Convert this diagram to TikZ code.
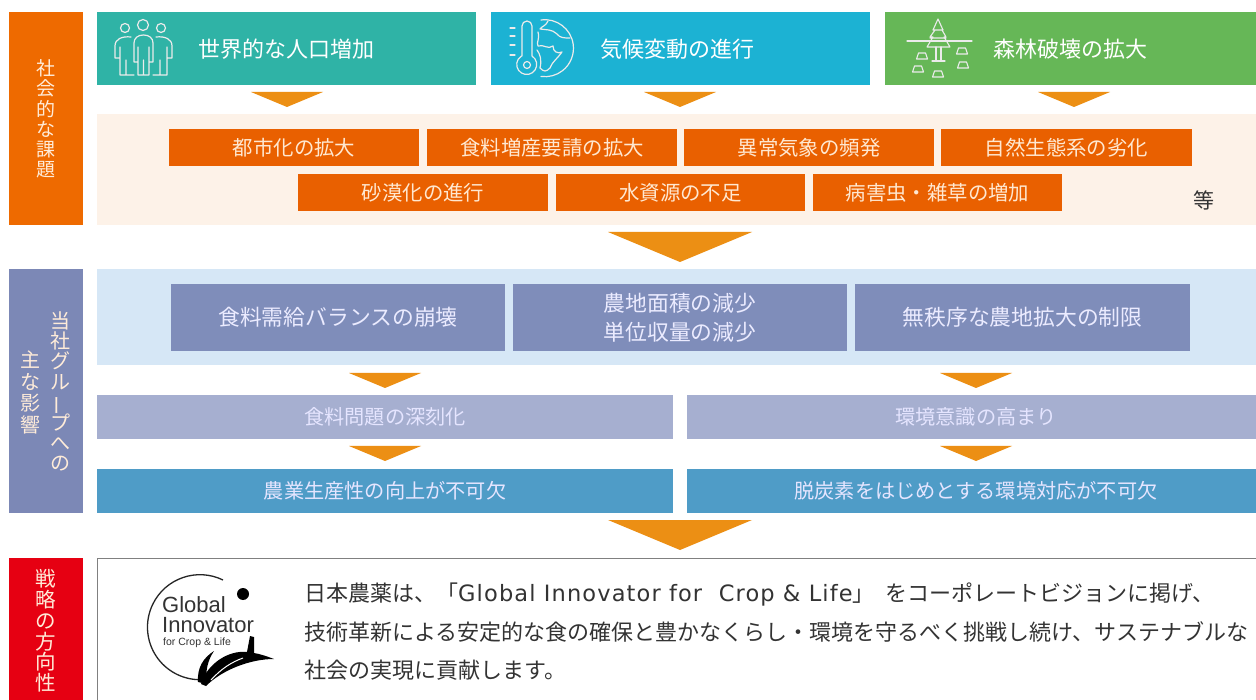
\documentclass[tikz,border=0pt]{standalone}
\usepackage{fontspec}
\setmainfont{Noto Sans CJK JP}
\newfontfamily\latinf[LetterSpace=5]{DejaVu Sans}
\newfontfamily\logof{Liberation Sans}
\definecolor{cOrange}{HTML}{EE6A00}
\definecolor{cBox}{HTML}{E96000}
\definecolor{cArrow}{HTML}{EC8F14}
\definecolor{cTeal}{HTML}{2FB3A6}
\definecolor{cBlue}{HTML}{1CB2D3}
\definecolor{cGreen}{HTML}{66B757}
\definecolor{cPeach}{HTML}{FDF2E8}
\definecolor{cPale}{HTML}{D6E7F6}
\definecolor{cSlate}{HTML}{7F8DBA}
\definecolor{cSide}{HTML}{7C88B6}
\definecolor{cLav}{HTML}{A6AFD0}
\definecolor{cSteel}{HTML}{4F9CC7}
\definecolor{cRed}{HTML}{E60012}
\definecolor{cTxt}{HTML}{333333}
\tikzset{
  block/.style={rectangle,inner sep=0pt,outer sep=0pt,align=center,text=white},
  head/.style={block,font=\fontsize{22}{26}\selectfont},
  small/.style={block,font=\fontsize{20.4}{24}\selectfont,text=white!82!orange},
  mid/.style={block,font=\fontsize{21.8}{29}\selectfont,text=white!92!blue},
  low/.style={block,font=\fontsize{20.2}{24}\selectfont,text=white!90!blue},
  side/.style={inner sep=0pt,align=center,text=white!85!orange},
  icon/.style={draw=white!92!black,line width=1.2pt,line join=round,line cap=round},
  bodytext/.style={anchor=west,inner sep=0pt,text=cTxt,font=\fontsize{22}{26}\selectfont},
  logotext/.style={inner sep=0pt,anchor=west,text=black!80},
}
% name, colour, style, x1, y1, x2, y2, text
\newcommand\bx[8]{%
  \pgfmathsetmacro\cxx{(#4+#6)/2}\pgfmathsetmacro\cyy{(#5+#7)/2}%
  \pgfmathsetmacro\www{#6-#4}\pgfmathsetmacro\hhh{#7-#5}%
  \node[#3,fill=#2,minimum width=\www pt,minimum height=\hhh pt] (#1) at (\cxx,\cyy) {#8};}
% centre x, half width, y top, y bottom
\newcommand\tri[4]{\fill[cArrow] ({#1-#2},#3) -- ({#1+#2},#3) -- (#1,#4) -- cycle;}
\newcommand\mound[2]{\draw (#1-5.5,#2+3) -- (#1-3.5,#2-3) -- (#1+3.5,#2-3) -- (#1+5.5,#2+3) -- cycle;}
\begin{document}
\begin{tikzpicture}[x=1pt,y=-1pt]
\useasboundingbox (0,0) rectangle (1256,700);
\clip (0,0) rectangle (1256,700);
\fill[white] (0,0) rectangle (1256,700);
% side bars
\bx{sideA}{cOrange}{block}{9}{12}{83}{225}{}
\node[side,font=\fontsize{19}{20.2}\selectfont] (sideAt) at (46,119) {社\\会\\的\\な\\課\\題};
\bx{sideB}{cSide}{block}{9}{269}{83}{513}{}
\node[side,font=\fontsize{20}{20.4}\selectfont] (sideBa) at (60,391.5) {当\\社\\グ\\ル\\\smash{\rotatebox[origin=c]{90}{ー}}\\プ\\へ\\の};
\node[side,font=\fontsize{20}{21.5}\selectfont] (sideBb) at (30,392.5) {主\\な\\影\\響};
\bx{sideC}{cRed}{block}{9}{558}{83}{720}{}
\node[side,font=\fontsize{20.5}{20.8}\selectfont] (sideCt) at (46,631) {戦\\略\\の\\方\\向\\性};
% top heads
\bx{headA}{cTeal}{block}{97}{12}{476}{85}{}
\bx{headB}{cBlue}{block}{491}{12}{870}{85}{}
\bx{headC}{cGreen}{block}{885}{12}{1270}{85}{}
\node[head,anchor=west] (headAt) at (198,49) {世界的な人口増加};
\node[head,anchor=west] (headBt) at (600,49) {気候変動の進行};
\node[head,anchor=west] (headCt) at (993,49) {森林破壊の拡大};
\tri{287}{36}{92}{107}
\tri{680}{36}{92}{107}
\tri{1074}{36}{92}{107}
% peach panel
\bx{panelA}{cPeach}{block}{97}{114}{1270}{225}{}
\bx{a1}{cBox}{small}{169}{129}{419}{166}{都市化の拡大}
\bx{a2}{cBox}{small}{427}{129}{677}{166}{食料増産要請の拡大}
\bx{a3}{cBox}{small}{684}{129}{934}{166}{異常気象の頻発}
\bx{a4}{cBox}{small}{941}{129}{1192}{166}{自然生態系の劣化}
\bx{b1}{cBox}{small}{298}{174}{548}{211}{砂漠化の進行}
\bx{b2}{cBox}{small}{556}{174}{805}{211}{水資源の不足}
\bx{b3}{cBox}{small}{813}{174}{1062}{211}{病害虫・雑草の増加}
\node[inner sep=0pt,text=cTxt,font=\fontsize{21}{24}\selectfont] (etc) at (1204,200) {等};
\tri{680}{72}{232}{262}
% pale panel
\bx{panelB}{cPale}{block}{97}{269}{1270}{365}{}
\bx{c1}{cSlate}{mid}{171}{284}{505}{351}{食料需給バランスの崩壊}
\bx{c2}{cSlate}{mid}{513}{284}{847}{351}{農地面積の減少\\単位収量の減少}
\bx{c3}{cSlate}{mid}{855}{284}{1190}{351}{無秩序な農地拡大の制限}
\tri{385}{36}{373}{388}
\tri{976}{36}{373}{388}
\bx{d1}{cLav}{low}{97}{395}{673}{439}{食料問題の深刻化}
\bx{d2}{cLav}{low}{687}{395}{1270}{439}{}
\node[low] (d2t) at (976,417) {環境意識の高まり};
\tri{385}{36}{446}{461}
\tri{976}{36}{446}{461}
\bx{e1}{cSteel}{low}{97}{469}{673}{513}{農業生産性の向上が不可欠}
\bx{e2}{cSteel}{low}{687}{469}{1270}{513}{}
\node[low] (e2t) at (976,491) {脱炭素をはじめとする環境対応が不可欠};
\tri{680}{72}{520}{550}
% vision box
\draw[draw=black!50,line width=1pt,fill=white] (97.5,558.5) rectangle (1290,720);
\node[bodytext] (l1) at (304,594) {日本農薬は、「{\latinf\fontsize{22.5}{26}\selectfont Global Innovator for\ \ Crop \& Life}」\hspace{11pt}をコーポレートビジョンに掲げ、};
\node[bodytext] (l2) at (304,632) {技術革新による安定的な食の確保と豊かなくらし・環境を守るべく挑戦し続け、サステナブルな};
\node[bodytext] (l3) at (304,670) {社会の実現に貢献します。};
% logo
\draw[black!85,line width=1.3pt] (223,580) arc[start angle=-64,end angle=-268,radius=52.5];
\fill[black] (243,594) circle (6);
\node[logotext,align=left,font=\logof\fontsize{22}{19.5}\selectfont] (lg1) at (162,614.5) {Global\\Innovator};
\node[logotext,font=\logof\fontsize{10.5}{11}\selectfont] (lg3) at (163,643) {for Crop \& Life};
\fill[black] (201,684) .. controls (207,664) and (228,650) .. (247,652) -- (250,636) -- (254,637) -- (254,653) .. controls (260,654) and (266,656) .. (274,659) .. controls (250,659) and (222,670) .. (206,686) -- cycle;
\fill[black] (198,682) .. controls (197,668) and (203,658) .. (214,651) .. controls (208,660) and (205,670) .. (207,684) -- cycle;
\draw[white,line width=1pt] (211,680) .. controls (222,668) and (232,662) .. (243,658);
% people icon
\begin{scope}[icon]
\draw (125,28) circle (4.5);\draw (143,25) circle (5.5);\draw (161,28) circle (4.5);
\draw (137,62) -- (134,62) -- (134,43) .. controls (134,38) and (138,35) .. (143.5,35) .. controls (149,35) and (153,38) .. (153,43) -- (153,62) -- (150,62) (138,47) -- (138,75) -- (149,75) -- (149,47) (143.5,60) -- (143.5,75);
\draw (131,37) .. controls (122,36) and (115,39) .. (115,46) -- (115,58) -- (119,58) (120,47) -- (120,75) -- (134,75) (126,60) -- (126,75);
\draw (156,37) .. controls (165,36) and (172,39) .. (172,46) -- (172,58) -- (168,58) (167,47) -- (167,75) -- (153,75) (160,60) -- (160,75);
\end{scope}
% climate icon
\begin{scope}[icon]
\draw (522,56) -- (522,26) arc[start angle=180,end angle=360,radius=5] -- (532,56) arc[start angle=-58,end angle=238,radius=10];
\draw (527,65) circle (3.5);
\draw (510,28) -- (515,28) (510,36) -- (515,36) (510,45) -- (515,45) (510,55) -- (515,55);
\draw (541,20) arc[start angle=-98,end angle=98,radius=28.5];
\draw (548,21) .. controls (546,26) and (542,26) .. (540,29) .. controls (546,30) and (552,29) .. (557,34) .. controls (560,38) and (564,38) .. (570,38);
\draw (538,32) .. controls (540,40) and (536,42) .. (538,46) .. controls (544,44) and (548,50) .. (553,46) .. controls (553,52) and (558,54) .. (562,52) .. controls (558,58) and (552,62) .. (550,68) .. controls (546,72) and (544,72) .. (540,68) .. controls (542,60) and (540,54) .. (537,50);
\end{scope}
% tree icon
\begin{scope}[icon,line width=1.1pt]
\draw (907,41) -- (972,41);
\draw (938,19) -- (933,30) -- (935,30) -- (930,37) -- (933,37) -- (927,47) -- (950,47) -- (944,37) -- (946,37) -- (942,30) -- (943,30) -- cycle (933,30) -- (943,30) (930,38) -- (946,38);
\draw (936,47) -- (936,61) (941,47) -- (941,61) (932,61) -- (945,61);
\mound{922}{56}\mound{962}{51}\mound{963}{65}\mound{918}{69}\mound{938}{74}
\end{scope}
\end{tikzpicture}
\end{document}
